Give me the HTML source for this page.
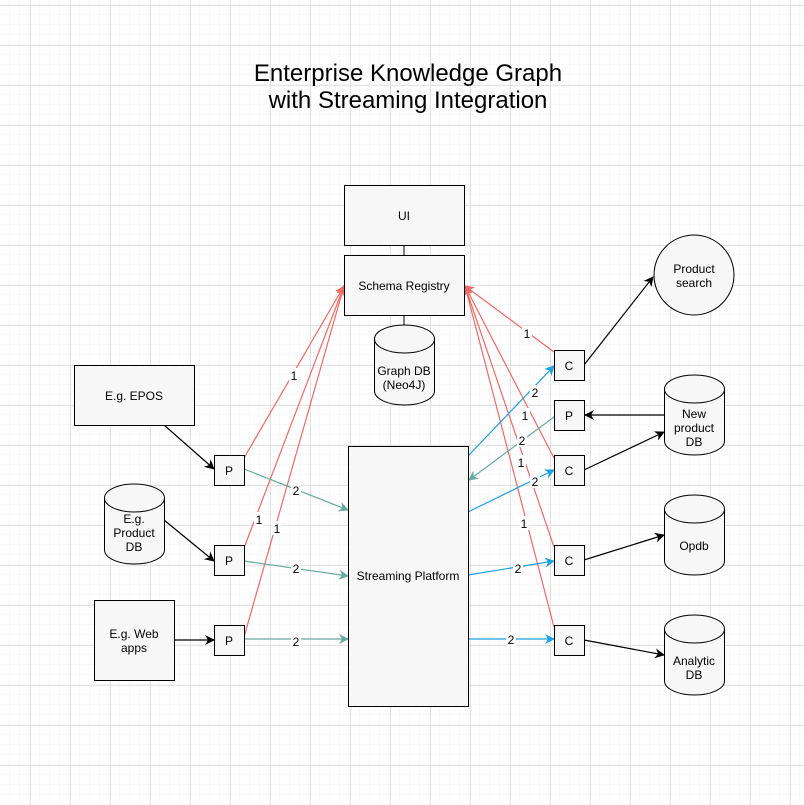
<!DOCTYPE html>
<html><head><meta charset="utf-8"><style>
html,body{margin:0;padding:0;background:#fff}
svg{display:block;font-family:"Liberation Sans",Helvetica,Arial,sans-serif}
</style></head><body>
<svg width="804" height="805" viewBox="0 0 804 805" xmlns="http://www.w3.org/2000/svg">
<defs>
<pattern id="minor" width="10" height="10" patternUnits="userSpaceOnUse" x="0" y="5">
<path d="M10 0V10M0 10H10" stroke="#f3f3f3" stroke-width="1" fill="none"/>
</pattern>
<pattern id="major" width="40" height="40" patternUnits="userSpaceOnUse" x="30" y="5">
<path d="M0.5 0V40M0 0.5H40" stroke="#e2e2e2" stroke-width="1" fill="none"/>
</pattern>
<marker id="ak" markerWidth="10" markerHeight="10" refX="9" refY="5" orient="auto" markerUnits="userSpaceOnUse"><path d="M0 0L10 5L0 10L3 5Z" fill="#000"/></marker>
<marker id="ar" markerWidth="10" markerHeight="10" refX="9" refY="5" orient="auto" markerUnits="userSpaceOnUse"><path d="M0 0L10 5L0 10L3 5Z" fill="#EA6B66"/></marker>
<marker id="at" markerWidth="10" markerHeight="10" refX="9" refY="5" orient="auto" markerUnits="userSpaceOnUse"><path d="M0 0L10 5L0 10L3 5Z" fill="#67AB9F"/></marker>
<marker id="ab" markerWidth="10" markerHeight="10" refX="9" refY="5" orient="auto" markerUnits="userSpaceOnUse"><path d="M0 0L10 5L0 10L3 5Z" fill="#1BA1E2"/></marker>
</defs>
<rect width="804" height="805" fill="url(#minor)"/>
<rect width="804" height="805" fill="url(#major)"/>

<text x="408" y="81" font-size="24" text-anchor="middle" fill="#000">Enterprise Knowledge Graph</text>
<text x="408" y="108" font-size="24" text-anchor="middle" fill="#000">with Streaming Integration</text>

<g stroke="#000" stroke-width="1" fill="none">
<line x1="404" y1="245" x2="404" y2="255"/>
<line x1="404" y1="315" x2="404" y2="325"/>
</g>

<g stroke="#EA6B66" stroke-width="1.2" fill="none" marker-end="url(#ar)">
<line x1="244" y1="458" x2="344" y2="286"/>
<line x1="244" y1="548" x2="344" y2="286"/>
<line x1="244" y1="637" x2="344" y2="286"/>
<line x1="554" y1="352" x2="465" y2="286"/>
<line x1="554" y1="458" x2="465" y2="286"/>
<line x1="554" y1="547" x2="465" y2="286"/>
<line x1="554" y1="627" x2="465" y2="286"/>
</g>
<g stroke="#67AB9F" stroke-width="1.2" fill="none" marker-end="url(#at)">
<line x1="244" y1="469" x2="348" y2="510"/>
<line x1="244" y1="561" x2="348" y2="576"/>
<line x1="244" y1="639" x2="348" y2="639"/>
<line x1="554" y1="417" x2="469" y2="480"/>
</g>
<g stroke="#1BA1E2" stroke-width="1.2" fill="none" marker-end="url(#ab)">
<line x1="468" y1="456" x2="554" y2="366"/>
<line x1="468" y1="512" x2="554" y2="470"/>
<line x1="468" y1="575" x2="554" y2="561"/>
<line x1="468" y1="639" x2="554" y2="639"/>
</g>
<g stroke="#000" stroke-width="1.2" fill="none" marker-end="url(#ak)">
<line x1="164" y1="425" x2="214" y2="469"/>
<line x1="164" y1="520" x2="214" y2="561"/>
<line x1="174" y1="640" x2="214" y2="640"/>
<line x1="584" y1="365" x2="653" y2="277"/>
<line x1="664" y1="415" x2="585" y2="415"/>
<line x1="584" y1="470" x2="664" y2="432"/>
<line x1="584" y1="560" x2="664" y2="535"/>
<line x1="584" y1="640" x2="664" y2="655"/>
</g>

<g font-size="12" text-anchor="middle" fill="#000">
<rect x="289" y="368" width="10" height="14" fill="#fff"/><text x="294" y="380">1</text>
<rect x="254" y="512" width="10" height="14" fill="#fff"/><text x="259" y="524">1</text>
<rect x="272" y="521" width="10" height="14" fill="#fff"/><text x="277" y="533">1</text>
<rect x="522" y="326" width="10" height="14" fill="#fff"/><text x="527" y="338">1</text>
<rect x="520" y="408" width="10" height="14" fill="#fff"/><text x="525" y="420">1</text>
<rect x="516" y="455" width="10" height="14" fill="#fff"/><text x="521" y="467">1</text>
<rect x="519" y="516" width="10" height="14" fill="#fff"/><text x="524" y="528">1</text>
<rect x="291" y="483" width="10" height="14" fill="#fff"/><text x="296" y="495">2</text>
<rect x="291" y="561" width="10" height="14" fill="#fff"/><text x="296" y="573">2</text>
<rect x="291" y="634" width="10" height="14" fill="#fff"/><text x="296" y="646">2</text>
<rect x="517" y="433" width="10" height="14" fill="#fff"/><text x="522" y="445">2</text>
<rect x="530" y="385" width="10" height="14" fill="#fff"/><text x="535" y="397">2</text>
<rect x="530" y="474" width="10" height="14" fill="#fff"/><text x="535" y="486">2</text>
<rect x="513" y="561" width="10" height="14" fill="#fff"/><text x="518" y="573">2</text>
<rect x="506" y="632" width="10" height="14" fill="#fff"/><text x="511" y="644">2</text>
</g>

<g fill="#f7f7f7" stroke="#000" stroke-width="1">
<rect x="344.5" y="185.5" width="120" height="60"/>
<rect x="344.5" y="255.5" width="120" height="60"/>
<rect x="74.5" y="365.5" width="120" height="60"/>
<rect x="94.5" y="600.5" width="80" height="80"/>
<rect x="348.5" y="446.5" width="120" height="260"/>
<rect x="214.5" y="455.5" width="30" height="30"/>
<rect x="214.5" y="545.5" width="30" height="30"/>
<rect x="214.5" y="625.5" width="30" height="30"/>
<rect x="554.5" y="350.5" width="30" height="30"/>
<rect x="554.5" y="400.5" width="30" height="30"/>
<rect x="554.5" y="455.5" width="30" height="30"/>
<rect x="554.5" y="545.5" width="30" height="30"/>
<rect x="554.5" y="625.5" width="30" height="30"/>
<circle cx="694" cy="275" r="40"/>
</g>

<g fill="#f7f7f7" stroke="#000" stroke-width="1">
<path d="M374.5 339 A30 14 0 0 1 434.5 339 V391 A30 14 0 0 1 374.5 391 Z"/><path d="M374.5 339 A30 14 0 0 0 434.5 339" fill="none"/>
<path d="M104.5 498 A30 14 0 0 1 164.5 498 V550 A30 14 0 0 1 104.5 550 Z"/><path d="M104.5 498 A30 14 0 0 0 164.5 498" fill="none"/>
<path d="M664.5 389 A30 14 0 0 1 724.5 389 V441 A30 14 0 0 1 664.5 441 Z"/><path d="M664.5 389 A30 14 0 0 0 724.5 389" fill="none"/>
<path d="M664.5 509 A30 14 0 0 1 724.5 509 V561 A30 14 0 0 1 664.5 561 Z"/><path d="M664.5 509 A30 14 0 0 0 724.5 509" fill="none"/>
<path d="M664.5 629 A30 14 0 0 1 724.5 629 V681 A30 14 0 0 1 664.5 681 Z"/><path d="M664.5 629 A30 14 0 0 0 724.5 629" fill="none"/>
</g>

<g font-size="12" text-anchor="middle" fill="#000">
<text x="404" y="220">UI</text>
<text x="404" y="290">Schema Registry</text>
<text x="404" y="375">Graph DB</text>
<text x="404" y="389">(Neo4J)</text>
<text x="134" y="400">E.g. EPOS</text>
<text x="134" y="523">E.g.</text>
<text x="134" y="537">Product</text>
<text x="134" y="551">DB</text>
<text x="134" y="638">E.g. Web</text>
<text x="134" y="652">apps</text>
<text x="408" y="580">Streaming Platform</text>
<text x="229" y="475">P</text>
<text x="229" y="565">P</text>
<text x="229" y="645">P</text>
<text x="569" y="370">C</text>
<text x="569" y="420">P</text>
<text x="569" y="475">C</text>
<text x="569" y="565">C</text>
<text x="569" y="645">C</text>
<text x="694" y="273">Product</text>
<text x="694" y="287">search</text>
<text x="694" y="418">New</text>
<text x="694" y="432">product</text>
<text x="694" y="446">DB</text>
<text x="694" y="550">Opdb</text>
<text x="694" y="665">Analytic</text>
<text x="694" y="679">DB</text>
</g>
</svg>
</body></html>
